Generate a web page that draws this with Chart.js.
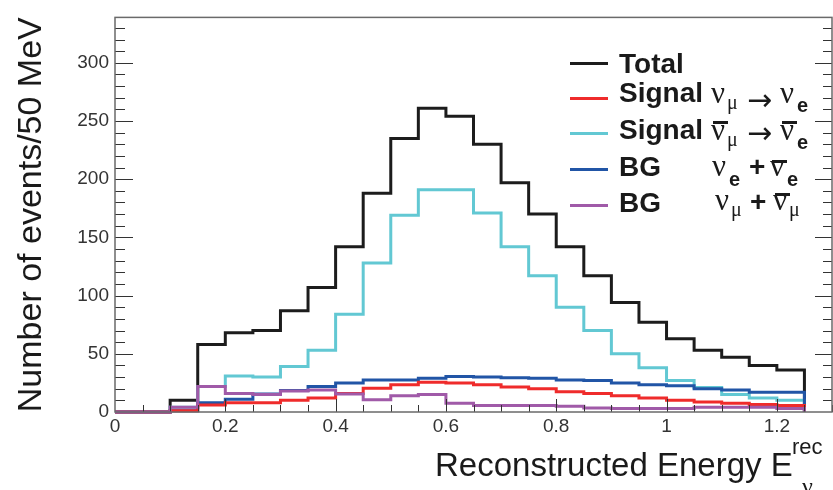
<!DOCTYPE html>
<html><head><meta charset="utf-8">
<script src="https://cdn.jsdelivr.net/npm/chart.js@4.4.1/dist/chart.umd.min.js"></script>
<style>
html,body{margin:0;padding:0;background:#fff;}
#wrap{position:relative;width:833px;height:490px;overflow:hidden;background:#fff;}
canvas{position:absolute;left:0;top:0;}
.t{position:absolute;white-space:nowrap;line-height:1;color:#1a1a1a;}
.sans{font-family:"Liberation Sans",Arial,sans-serif;}
.serif{font-family:"Liberation Serif","Times New Roman",serif;}
.arr{font-family:"DejaVu Sans",sans-serif;}
.b{font-weight:bold;}
.bar{position:absolute;height:3px;background:#1a1a1a;}
.ln{position:absolute;height:3px;}
</style></head><body>
<div id="wrap"><canvas id="c" width="833" height="490"></canvas></div>
<script>
// ---- data (bin edges in GeV, events per 50 MeV bin) ----
const binEdges = [0,0.05,0.1,0.15,0.2,0.25,0.3,0.35,0.4,0.45,0.5,0.55,0.6,0.65,0.7,0.75,0.8,0.85,0.9,0.95,1.0,1.05,1.1,1.15,1.2,1.25];
const totalEvents  = [0,0,10,58,68,70,87,107,142,188,235,261,254,230,197,170,142,117,94,77,63,53,47,40,36];
const signalNu     = [0,0,1,6,8,8,10,12,16,20.5,23.5,25.5,25,23.5,21.5,20,17.5,16,14,12,10,8.5,7.5,6.5,5.5];
const signalNuBar  = [0,0,4,22,31,30,39,53,84,128,169,191,191,171,142,117,90,70,50,38,27,21,15,12,10];
const bgNuE        = [0,0,1,8,11,15.5,18.5,22,25,27.5,27.5,29,30.5,30,29.5,29,27.5,27,25,23.5,22.5,20,19,17,17];
const bgNuMu       = [0,0,4,22,16,15,18,19,15.5,10.5,14,15,7.5,5.5,5.5,5.5,5,3.5,3,3,3,4,4,4,3];
const xTickLabels  = [0,0.2,0.4,0.6,0.8,1,1.2];
const yTickLabels  = [0,50,100,150,200,250,300];

// ---- styling ----
const COLORS = {total:'#1c1c1c', sig:'#ef2b2b', sigBar:'#62c8d3', bgE:'#2155a6', bgMu:'#a05aa8'};
const X_MAX = 1.3, Y_MAX = 339;

// histogram outline: each bin value holds from its low edge to its high edge
function histPoints(vals){
  const pts = vals.map((v,i)=>({x:binEdges[i], y:v}));
  pts.push({x:binEdges[vals.length], y:0});
  return pts;
}
function ds(label, vals, color, order){
  return {label, data:histPoints(vals), borderColor:color, backgroundColor:color,
    borderWidth:3, stepped:'before', pointRadius:0, pointHoverRadius:0, fill:false,
    tension:0, clip:false, order, borderJoinStyle:'miter', borderCapStyle:'butt'};
}

const frameTicks = {
  id:'frameTicks',
  afterDatasetsDraw(chart){
    const {ctx, chartArea:a, scales:{x,y}} = chart;
    ctx.save();
    ctx.strokeStyle = '#333'; ctx.lineWidth = 1;
    ctx.beginPath();
    for (let k=1; k*10 <= Y_MAX; k++){
      const major = (k%5===0);
      const py = Math.round(y.getPixelForValue(k*10))+0.5;
      ctx.moveTo(a.left, py); ctx.lineTo(a.left+(major?18:10), py);
      ctx.moveTo(a.right, py); ctx.lineTo(a.right-(major?17:9), py);
    }
    for (let k=1; k*0.05 <= X_MAX+1e-9; k++){
      const major = (k%4===0);
      const px = Math.round(x.getPixelForValue(k*0.05))+0.5;
      ctx.moveTo(px, a.bottom); ctx.lineTo(px, a.bottom-(major?13:7));
    }
    ctx.stroke();
    ctx.strokeStyle = '#6a6a6a'; ctx.lineWidth = 1.5;
    ctx.strokeRect(a.left, a.top, a.right-a.left, a.bottom-a.top);
    ctx.restore();
  }
};

const fmt = v => String(Number(v.toFixed(2)));

new Chart(document.getElementById('c'), {
  type:'line',
  data:{datasets:[
    ds('BG numu', bgNuMu, COLORS.bgMu, 0),
    ds('Signal numu->nue', signalNu, COLORS.sig, 1),
    ds('BG nue', bgNuE, COLORS.bgE, 2),
    ds('Signal numubar->nuebar', signalNuBar, COLORS.sigBar, 3),
    ds('Total', totalEvents, COLORS.total, 4)
  ]},
  options:{
    responsive:false, animation:false, devicePixelRatio:1,
    layout:{padding:{left:0, top:15, right:1, bottom:0}},
    plugins:{legend:{display:false}, tooltip:{enabled:false}},
    scales:{
      x:{type:'linear', min:0, max:X_MAX,
        grid:{display:false, drawTicks:false}, border:{display:false},
        afterBuildTicks:s=>{ s.ticks = xTickLabels.map(v=>({value:v})); },
        ticks:{padding:3, maxRotation:0, autoSkip:false, color:'#333',
          font:{family:'"Liberation Sans", Arial, sans-serif', size:19},
          callback:v=>fmt(v)},
        afterFit:s=>{ s.height = 78; }
      },
      y:{type:'linear', min:0, max:Y_MAX,
        grid:{display:false, drawTicks:false}, border:{display:false},
        afterBuildTicks:s=>{ s.ticks = yTickLabels.map(v=>({value:v})); },
        ticks:{padding:6, autoSkip:false, color:'#333',
          font:{family:'"Liberation Sans", Arial, sans-serif', size:19},
          callback:v=>fmt(v)},
        title:{display:true, text:'Number of events/50 MeV', color:'#1a1a1a',
          font:{family:'"Liberation Sans", Arial, sans-serif', size:34}, padding:{top:11, bottom:0}},
        afterFit:s=>{ s.width = 115; }
      }
    }
  },
  plugins:[frameTicks]
});

// ---- HTML text overlay (legend & x-axis title with sub/superscripts) ----
const wrap = document.getElementById('wrap');
function txt(str, x, base, size, cls){
  const d = document.createElement('div');
  d.className = 't ' + cls;
  d.style.fontSize = size+'px';
  d.style.left = x+'px';
  d.style.top = (base - 0.85*size)+'px';
  d.textContent = str;
  wrap.appendChild(d);
}
function bar(x, y, w){
  const d = document.createElement('div');
  d.className = 'bar'; d.style.left = x+'px'; d.style.top = y+'px'; d.style.width = w+'px';
  wrap.appendChild(d);
}
function legLine(y, color){
  const d = document.createElement('div');
  d.className = 'ln'; d.style.left='570px'; d.style.width='38px'; d.style.top=(y-1.5)+'px'; d.style.background=color;
  wrap.appendChild(d);
}
// legend lines
legLine(63, COLORS.total); legLine(98, COLORS.sig); legLine(133, COLORS.sigBar); legLine(169, COLORS.bgE); legLine(205, COLORS.bgMu);
// row 1
txt('Total', 619, 74, 28, 'sans b');
// row 2
txt('Signal', 619, 103, 28, 'sans b');
txt('ν', 711, 103, 31, 'serif'); txt('μ', 727, 109, 20, 'serif');
txt('→', 747, 110, 30, 'arr');
txt('ν', 780, 103, 31, 'serif'); txt('e', 797, 112, 20, 'sans b');
// row 3
txt('Signal', 619, 140, 28, 'sans b');
txt('ν', 711, 140, 31, 'serif'); bar(713, 121, 15); txt('μ', 727, 146, 20, 'serif');
txt('→', 747, 143, 30, 'arr');
txt('ν', 780, 140, 31, 'serif'); bar(782, 121, 15); txt('e', 797, 149, 20, 'sans b');
// row 4
txt('BG', 619, 177, 28, 'sans b');
txt('ν', 712, 176, 31, 'serif'); txt('e', 729, 186, 20, 'sans b');
txt('+', 749, 177, 28, 'sans b');
txt('ν', 770, 176, 31, 'serif'); bar(772, 160, 15); txt('e', 787, 186, 20, 'sans b');
// row 5
txt('BG', 619, 213, 28, 'sans b');
txt('ν', 715, 210, 31, 'serif'); txt('μ', 731, 216, 20, 'serif');
txt('+', 750, 212, 28, 'sans b');
txt('ν', 773, 210, 31, 'serif'); bar(775, 193, 15); txt('μ', 789, 216, 20, 'serif');
// x-axis title
txt('Reconstructed Energy E', 435, 476, 33, 'sans');
txt('rec', 792, 455, 22, 'sans');
txt('ν', 802, 494, 24, 'serif');
</script>
</body></html>
